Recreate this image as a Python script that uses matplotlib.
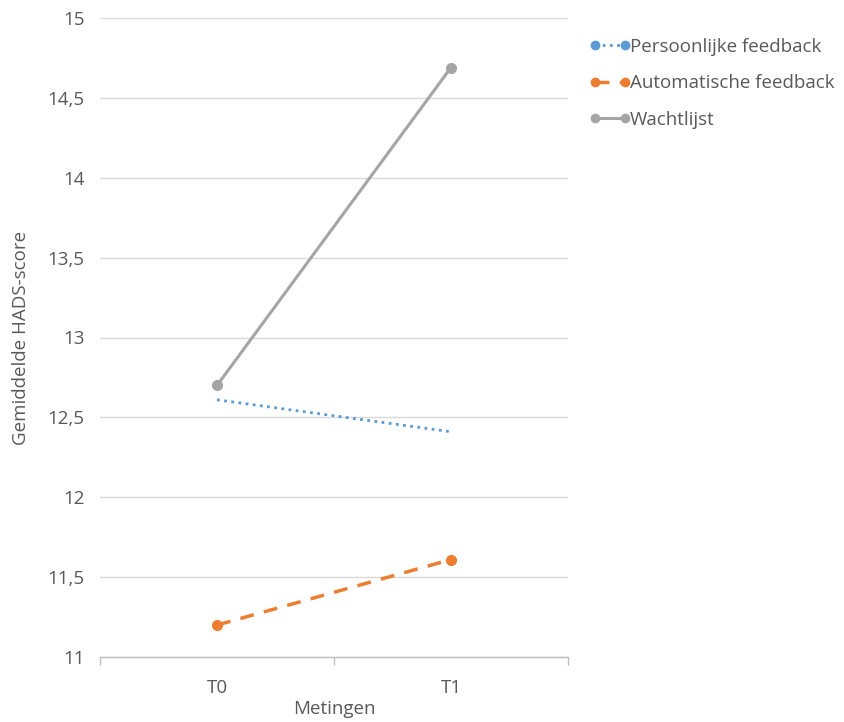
import matplotlib
matplotlib.use("Agg")
import matplotlib.pyplot as plt
from matplotlib.lines import Line2D

categories = ["T0", "T1"]
series_names = ["Persoonlijke feedback", "Automatische feedback", "Wachtlijst"]
persoonlijk = [12.61, 12.41]
automatisch = [11.20, 11.61]
wachtlijst = [12.70, 14.69]
y_ticks = [11, 11.5, 12, 12.5, 13, 13.5, 14, 14.5, 15]
y_tick_labels = ["11", "11,5", "12", "12,5", "13", "13,5", "14", "14,5", "15"]

plt.rcParams['font.family'] = ['Open Sans', 'DejaVu Sans']
txt = "#595959"
blue, orange, gray = "#5B9BD5", "#ED7D31", "#A5A5A5"
fs = 13.5

fig = plt.figure(figsize=(8.45, 7.22), dpi=100)
ax = fig.add_axes([100/845, 1-657/722, 468/845, 639/722])

x = list(range(len(categories)))
ax.plot(x, persoonlijk, color=blue, lw=2, linestyle=(0, (1, 1.6)), zorder=3)
ax.plot(x, automatisch, color=orange, lw=2.5, linestyle=(0, (4, 3)), marker='o', ms=7, zorder=3)
ax.plot(x, wachtlijst, color=gray, lw=2.2, marker='o', ms=7, zorder=3)

ax.set_xlim(-0.5, 1.5)
ax.set_ylim(11, 15)
ax.set_yticks(y_ticks)
ax.set_yticklabels(y_tick_labels)
ax.set_xticks(x)
ax.set_xticklabels(categories)
ax.set_xticks([-0.5, 0.5, 1.5], minor=True)
ax.tick_params(axis='x', which='major', length=0, pad=16, labelsize=fs, labelcolor=txt)
ax.tick_params(axis='x', which='minor', length=6, color="#BFBFBF", width=1)
ax.tick_params(axis='y', length=0, pad=11, labelsize=fs, labelcolor=txt)
ax.grid(axis='y', color="#D9D9D9", lw=1)
ax.set_axisbelow(True)
for s in ['top', 'right', 'left']:
    ax.spines[s].set_visible(False)
ax.spines['bottom'].set_color("#BFBFBF")
ax.spines['bottom'].set_linewidth(1)

ax.set_xlabel("Metingen", fontsize=fs, color=txt, labelpad=2)
ax.set_ylabel("Gemiddelde HADS-score", fontsize=fs, color=txt, labelpad=13)

handles = [
    Line2D([0], [0], color=blue, lw=2, linestyle=(0, (1, 1.6)), marker='o', ms=6),
    Line2D([0], [0], color=orange, lw=2.5, linestyle=(0, (4, 3)), marker='o', ms=6),
    Line2D([0], [0], color=gray, lw=2.2, marker='o', ms=6),
]
leg = fig.legend(handles, series_names, loc='upper left', bbox_to_anchor=(572/845, 1-21/722),
                 frameon=False, fontsize=fs, numpoints=2, handlelength=2.2, handletextpad=0.0,
                 labelspacing=0.99, labelcolor=txt)

fig.savefig("out.png", dpi=100)
